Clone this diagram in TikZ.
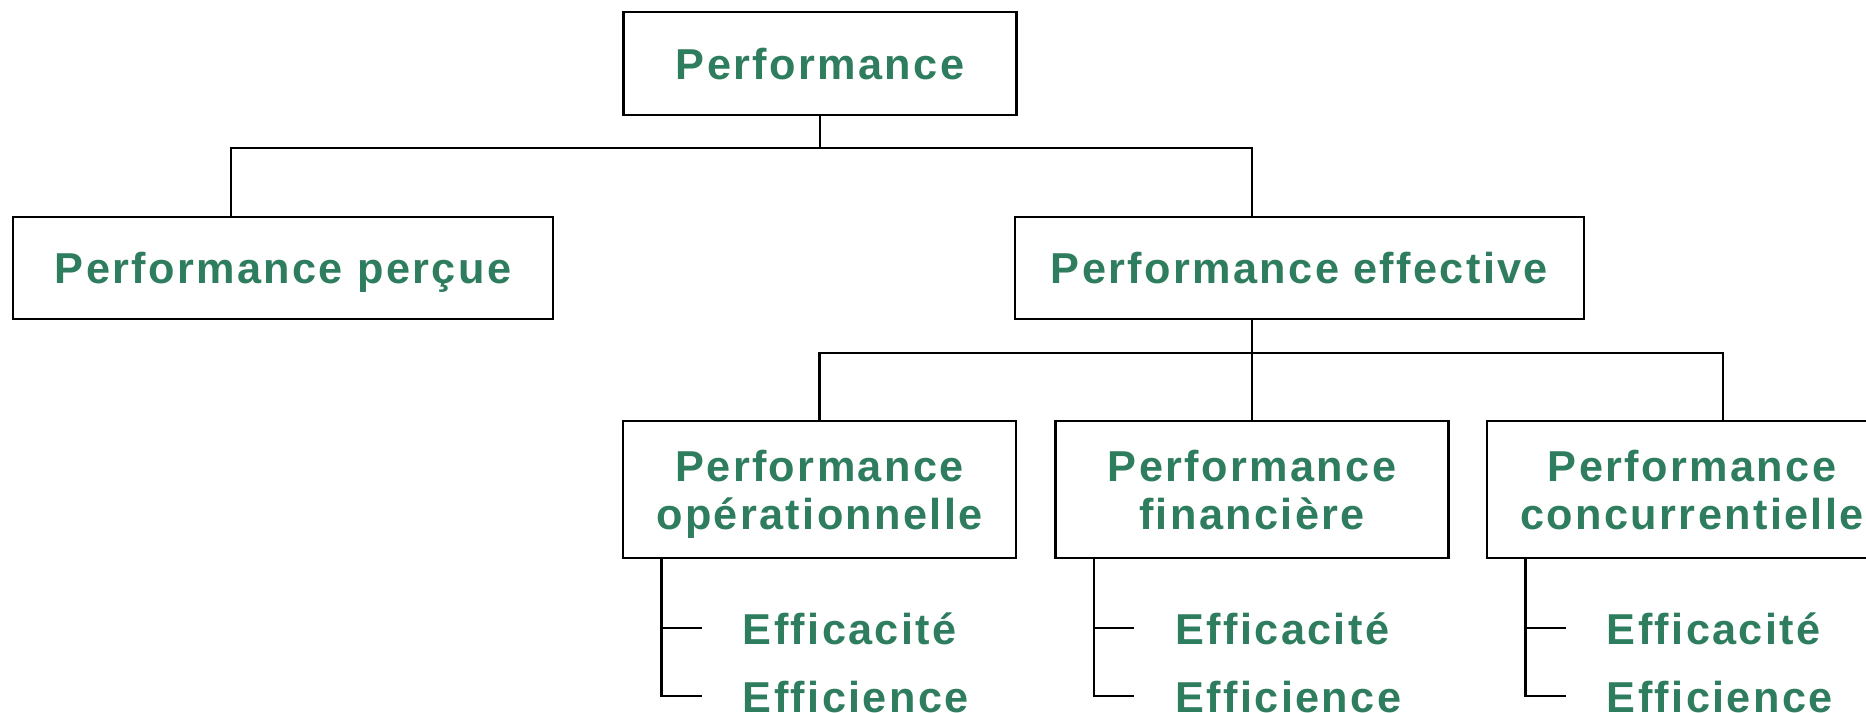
\documentclass[tikz,border=0pt]{standalone}
\usepackage{fontspec}
\setmainfont{Liberation Sans}[LetterSpace=5.5]
\usetikzlibrary{calc}
\definecolor{perfgreen}{RGB}{46,125,94}
\tikzstyle{box} = [rectangle, draw, fill=white, inner sep=0pt, text=perfgreen, font=\fontsize{12.3}{13.7}\selectfont\bfseries, align=center, minimum height=1.02cm, text depth=0pt]
\tikzstyle{subbox} = [box, minimum width=3.93cm, minimum height=1.37cm, text height=25pt, text depth=2pt]
\tikzstyle{item} = [inner sep=0pt, anchor=base west, text=perfgreen, font=\fontsize{12.3}{13.7}\selectfont\bfseries]

\begin{document}
\begin{tikzpicture}[x=0.01cm,y=-0.01cm,line width=0.7pt]
  \useasboundingbox (0,0) rectangle (1866,713);
  \clip (0,0) rectangle (1866,713);

  \node[box,minimum width=3.93cm,minimum height=1.03cm] (perf) at (820,63.5) {Performance};
  \node[box,minimum width=5.40cm] (percue) at (283,268) {Performance perçue};
  \node[box,minimum width=5.69cm] (eff) at (1299.5,268) {Performance effective};
  \node[subbox] (op) at (819.5,489.5) {Performance\\opérationnelle};
  \node[subbox] (fin) at (1252,489.5) {Performance\\financière};
  \node[subbox,minimum width=4.10cm] (conc) at (1692,489.5) {Performance\\concurrentielle};

  % first level
  \draw (perf.south) -- (perf.south |- 0,148);
  \draw (231,148 |- percue.north) |- (1252,148) -- (1252,148 |- eff.north);

  % second level
  \draw (fin.north) -- (fin.north |- eff.south);
  \draw (op.north) |- (1723,353) -- (1723,353 |- conc.north);

  % efficacite / efficience under each box
  \foreach \b in {op,fin,conc} {
    \coordinate (\b-t) at ($(\b.south west)+(40,0)$);
    \draw (\b-t) |- ($(\b-t)+(40,137)$);
    \draw ($(\b-t)+(0,69)$) -- ++(40,0);
    \node[item] (\b-a) at ($(\b-t)+(80,85)$) {Efficacité};
    \node[item] (\b-e) at ($(\b-t)+(80,153)$) {Efficience};
  }
\end{tikzpicture}
\end{document}
